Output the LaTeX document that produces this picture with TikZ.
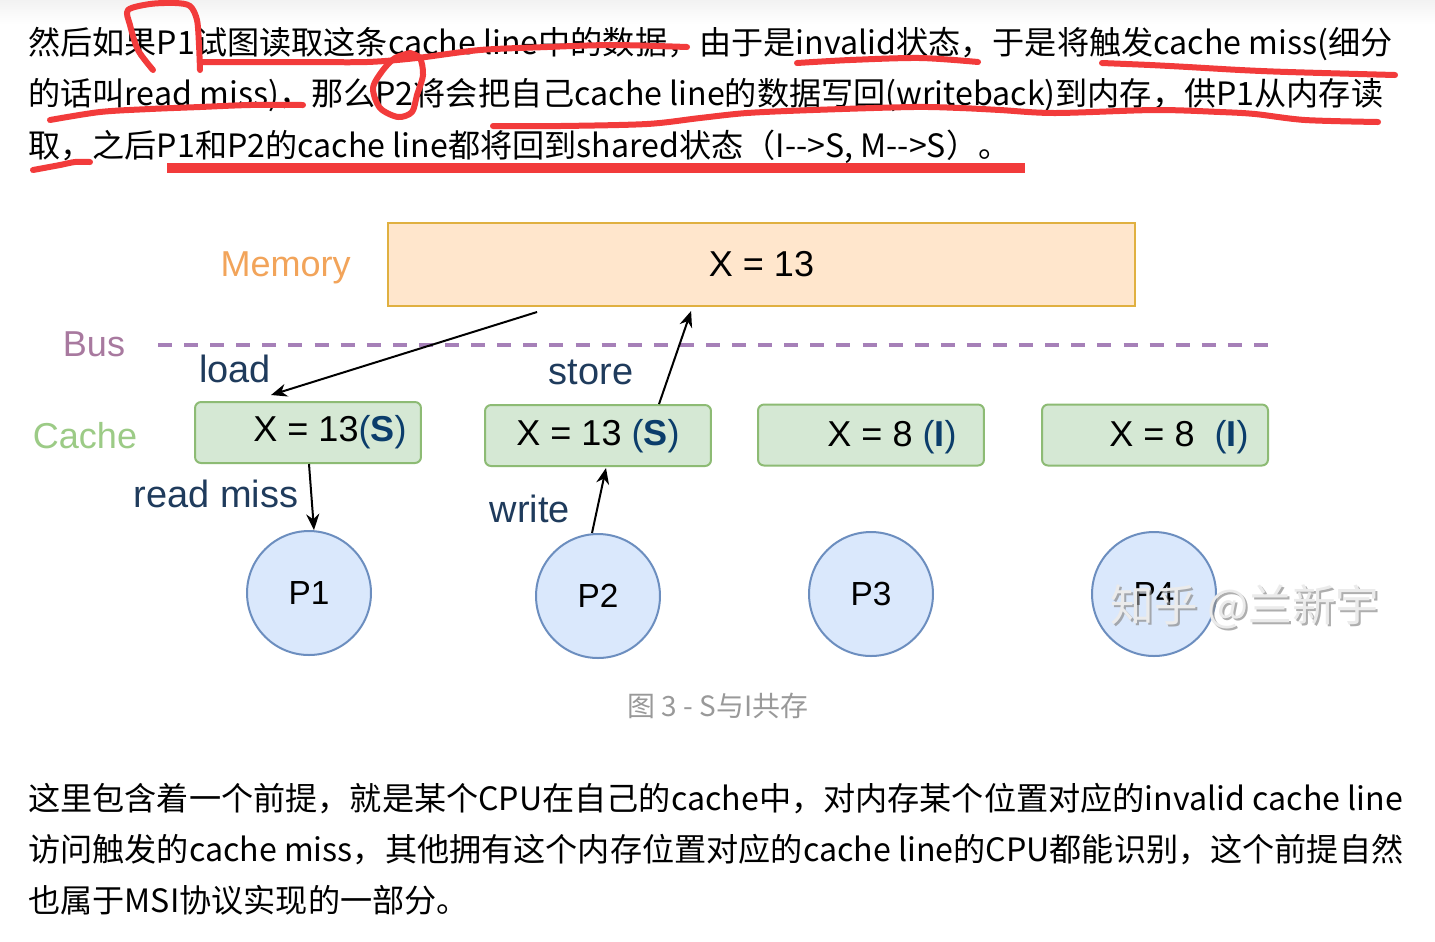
\documentclass[tikz,border=0pt]{standalone}
\usepackage{fontspec}
\setmainfont{Liberation Sans}
\newfontfamily\cjk{Noto Sans CJK SC}
\usepackage{xcolor}
\usepackage{tikz}
\usetikzlibrary{positioning,arrows.meta,calc}

\definecolor{memfill}{HTML}{FFE6CC}
\definecolor{memline}{HTML}{E0B040}
\definecolor{cfill}{HTML}{D5E8D4}
\definecolor{cline}{HTML}{8DBB74}
\definecolor{pfill}{HTML}{DAE8FC}
\definecolor{pline}{HTML}{6C8EBF}
\definecolor{memtxt}{HTML}{F2A45A}
\definecolor{bustxt}{HTML}{A8799F}
\definecolor{busline}{HTML}{A680B8}
\definecolor{cachetxt}{HTML}{9CCB86}
\definecolor{labc}{HTML}{1F3B5C}
\definecolor{statec}{HTML}{0B3D6B}
\definecolor{inkred}{HTML}{F23B3B}

\begin{document}
\begin{tikzpicture}[
  x=0.02cm, y=-0.02cm,
  node distance=5mm and 6mm,
  memory/.style={draw=memline, fill=memfill, line width=0.04cm, minimum width=14.94cm, minimum height=1.66cm, inner sep=0pt, font=\fontsize{20.5pt}{24pt}\selectfont},
  cbox/.style={draw=cline, fill=cfill, rounded corners=0.12cm, line width=0.04cm, minimum width=4.52cm, minimum height=1.22cm, inner sep=0pt},
  proc/.style={circle, draw=pline, fill=pfill, line width=0.04cm, minimum size=2.48cm, inner sep=0pt, font=\fontsize{19pt}{23pt}\selectfont},
  val/.style={inner sep=0pt, font=\fontsize{20.5pt}{24pt}\selectfont},
  side/.style={inner sep=0pt, text=#1, font=\fontsize{20.5pt}{24pt}\selectfont},
  lab/.style={inner sep=0pt, text=labc, font=\fontsize{21.6pt}{26pt}\selectfont},
  arr/.style={-{Stealth[length=0.32cm, width=0.26cm]}, line width=0.04cm},
  bus/.style={draw=busline, line width=0.08cm, dash pattern=on 0.28cm off 0.242cm},
  ink/.style={draw=inkred, line width=0.12cm, line cap=round, line join=round},
  para/.style={anchor=base west, inner sep=0pt, font=\cjk\fontsize{18.3pt}{22pt}\selectfont}]

  \useasboundingbox (0,0) rectangle (1435,941);
  \fill[white] (0,0) rectangle (1435,941);
  \shade[top color=black!5, bottom color=white] (0,0) rectangle (1435,24);

  % text above the figure
  \node[para] (t1) at (28,54) {然后如果P1试图读取这条cache line中的数据，由于是invalid状态，于是将触发cache miss(细分};
  \node[para] (t2) at (28,105) {的话叫read miss)，那么P2将会把自己cache line的数据写回(writeback)到内存，供P1从内存读};
  \node[para] (t3) at (28,157) {取，之后P1和P2的cache line都将回到shared状态（I-->S, M-->S）。};

  % memory, bus, caches, processors
  \node[memory] (mem) at (761.5,264.5) {X = 13};
  \node[side=memtxt, left=0.72cm of mem, yshift=-0.07cm] (memlab) {Memory};
  \coordinate (busL) at (158,345);
  \coordinate (busR) at (1268,345);
  \draw[bus] (busL) -- (busR);
  \node[side=bustxt] (buslab) at (94,344) {Bus};
  \node[side=cachetxt] (cachelab) at (85,436) {Cache};

  \node[cbox] (c1) at (308,432.5) {};
  \node[cbox] (c2) at (598,435.5) {};
  \node[cbox] (c3) at (871,435) {};
  \node[cbox] (c4) at (1155,435) {};
  \node[val] (v1) at ($(c1)+(22,0)$) {X = 13{\color{statec}(\textbf{S})}};
  \node[val] (v2) at ($(c2)+(0,1)$) {X = 13 {\color{statec}(\textbf{S})}};
  \node[val] (v3) at ($(c3)+(21,2)$) {X = 8 {\color{statec}(\textbf{I})}};
  \node[val] (v4) at ($(c4)+(24,2)$) {X = 8\ \ {\color{statec}(\textbf{I})}};

  \node[proc] (p1) at (309,593) {P1};
  \node[proc] (p2) at (598,596) {P2};
  \node[proc] (p3) at (871,594) {P3};
  \node[proc] (p4) at (1154,594) {P4};

  \draw[arr] ($(mem.south west)+(150,5)$) -- ($(c1.north west)+(77,-6)$);
  \draw[arr] ($(c2.north west)+(175,0)$) -- ($(mem.south west)+(304,4)$);
  \draw[arr] ($(c1.south)+(1,0)$) -- ($(p1.north)+(5,0)$);
  \draw[arr] ($(p2.north)+(-6,0)$) -- ($(c2.south)+(8,1)$);
  \node[lab] (loadlab) at (235,369) {load};
  \node[lab] (storelab) at (591,372) {store};
  \node[lab] (misslab) at (216,494) {read miss};
  \node[lab] (writelab) at (530,509) {write};

  \node[inner sep=0pt, text=black!40, font=\cjk\fontsize{15.9pt}{19pt}\selectfont] (cap) at (718,706) {图 3 - S与I共存};
  \node[inner sep=0pt, text=black!45, opacity=0.7, font=\cjk\fontsize{24.8pt}{30pt}\selectfont] (wms) at (1247,609) {知乎 @兰新宇};
  \node[inner sep=0pt, text=white!92!black, font=\cjk\fontsize{24.8pt}{30pt}\selectfont] (wm) at (1245,607) {知乎 @兰新宇};

  % text below the figure
  \node[para] (b1) at (28,810) {这里包含着一个前提，就是某个CPU在自己的cache中，对内存某个位置对应的invalid cache line};
  \node[para] (b2) at (28,861) {访问触发的cache miss，其他拥有这个内存位置对应的cache line的CPU都能识别，这个前提自然};
  \node[para] (b3) at (28,912) {也属于MSI协议实现的一部分。};

  % red marks
  \draw[ink] plot[smooth] coordinates {(153,70) (138,50) (130,25) (128,10) (150,4) (175,3) (190,6) (197,20) (199,45) (200,70)};
  \draw[ink] plot[smooth] coordinates {(200,62) (300,62) (367,62) (417,58) (480,50) (547,47) (613,45) (687,47)};
  \draw[ink] plot[smooth] coordinates {(410,53) (395,58) (383,70) (373,88) (380,108) (398,117) (412,112) (417,95) (423,75) (420,58) (410,53)};
  \draw[ink] plot[smooth] coordinates {(50,120) (100,112) (150,109) (200,107) (250,105) (303,105)};
  \draw[ink] plot[smooth] coordinates {(493,126) (560,126) (647,124) (700,118) (747,113) (813,110) (913,107) (960,108) (1000,110) (1055,113) (1155,110) (1220,112) (1255,114) (1305,120) (1378,122)};
  \draw[ink] plot[smooth] coordinates {(797,63) (850,60) (920,58) (978,62)};
  \draw[ink] plot[smooth] coordinates {(1102,63) (1150,65) (1188,67) (1240,70) (1288,72) (1395,75)};
  \draw[ink] plot[smooth] coordinates {(33,170) (60,165) (75,162) (90,162)};
  \draw[inkred, line width=0.2cm] (167,168) -- (1025,168);
\end{tikzpicture}
\end{document}
